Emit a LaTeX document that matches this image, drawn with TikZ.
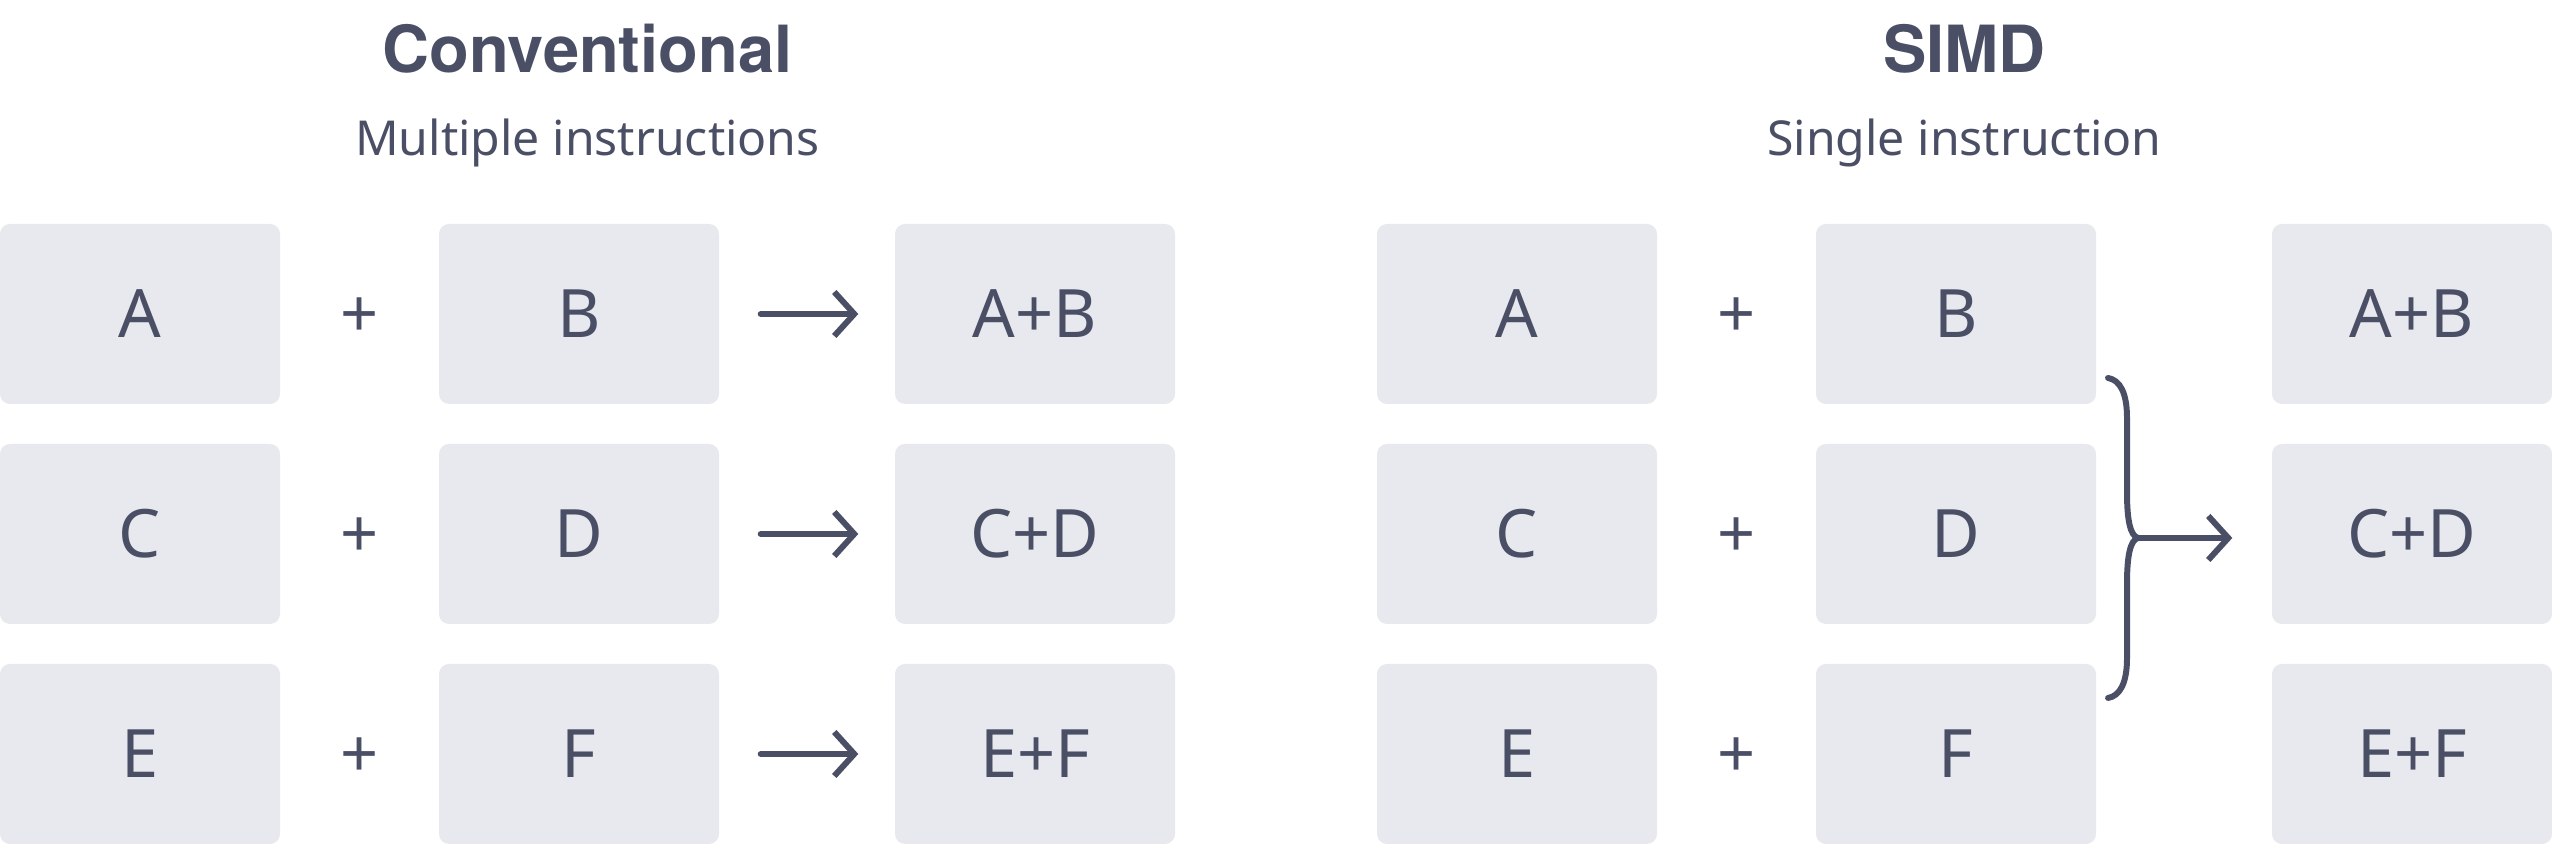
\documentclass[tikz,border=0pt]{standalone}
\usepackage{fontspec}
\setmainfont{Noto Sans}
\newfontfamily\headfont{TeX Gyre Heros}
\usetikzlibrary{arrows.meta}
\definecolor{uuvvxx}{rgb}{0.294,0.310,0.400}
\definecolor{ebebef}{rgb}{0.910,0.914,0.933}

\begin{document}
\begin{tikzpicture}[line cap=round,line join=round,>={Straight Barb[length=2mm,width=4.4mm]},x=1cm,y=1cm,
		cell/.style={fill=ebebef,rounded corners=0.1cm,minimum width=2.8cm,minimum height=1.8cm,inner sep=0pt,text=uuvvxx,font=\fontsize{19}{23}\selectfont},
		op/.style={text=uuvvxx,font=\fontsize{19}{23}\selectfont},
		head/.style={anchor=base,text=uuvvxx,font=\headfont\fontsize{18.5}{22}\selectfont\bfseries},
		subhead/.style={anchor=base,text=uuvvxx,font=\fontsize{13.7}{17}\selectfont},
		link/.style={->,line width=1.7pt,color=uuvvxx}]
		\useasboundingbox (0,0) rectangle (25.52,8.44);
		% conventional
		\node[head] (conv) at (5.875,7.71) {Conventional};
		\node[subhead] (convsub) at (5.875,6.88) {Multiple instructions};
		\node[cell] (a1) at (1.40,5.30) {A};
		\node[op] (pa1) at (3.595,5.30) {\vphantom{A}+};
		\node[cell] (b1) at (5.79,5.30) {B};
		\node[cell] (ab1) at (10.35,5.30) {A+B};
		\node[cell] (c1) at (1.40,3.10) {C};
		\node[op] (pc1) at (3.595,3.10) {\vphantom{A}+};
		\node[cell] (d1) at (5.79,3.10) {D};
		\node[cell] (cd1) at (10.35,3.10) {C+D};
		\node[cell] (e1) at (1.40,0.90) {E};
		\node[op] (pe1) at (3.595,0.90) {\vphantom{A}+};
		\node[cell] (f1) at (5.79,0.90) {F};
		\node[cell] (ef1) at (10.35,0.90) {E+F};
		\draw [link,shorten <=0.41cm,shorten >=0.36cm] (b1) -- (ab1);
		\draw [link,shorten <=0.41cm,shorten >=0.36cm] (d1) -- (cd1);
		\draw [link,shorten <=0.41cm,shorten >=0.36cm] (f1) -- (ef1);
		% simd
		\node[head] (simd) at (19.645,7.71) {SIMD};
		\node[subhead] (simdsub) at (19.645,6.88) {Single instruction};
		\node[cell] (a2) at (15.17,5.30) {A};
		\node[op] (pa2) at (17.365,5.30) {\vphantom{A}+};
		\node[cell] (b2) at (19.56,5.30) {B};
		\node[cell] (ab2) at (24.12,5.30) {A+B};
		\node[cell] (c2) at (15.17,3.10) {C};
		\node[op] (pc2) at (17.365,3.10) {\vphantom{A}+};
		\node[cell] (d2) at (19.56,3.10) {D};
		\node[cell] (cd2) at (24.12,3.10) {C+D};
		\node[cell] (e2) at (15.17,0.90) {E};
		\node[op] (pe2) at (17.365,0.90) {\vphantom{A}+};
		\node[cell] (f2) at (19.56,0.90) {F};
		\node[cell] (ef2) at (24.12,0.90) {E+F};
		\coordinate (cusp) at (21.38,3.06);
		\draw [line width=1.7pt,color=uuvvxx] (21.08,4.66) .. controls (21.20,4.64) and (21.27,4.51) .. (21.27,4.26) -- (21.27,3.51) .. controls (21.27,3.25) and (21.30,3.08) .. (cusp) .. controls (21.30,3.04) and (21.27,2.87) .. (21.27,2.61) -- (21.27,1.86) .. controls (21.27,1.61) and (21.20,1.48) .. (21.08,1.46);
		\draw [link,shorten >=0.39cm] (cusp) -- (cusp -| cd2.west);
	\end{tikzpicture}
\end{document}
